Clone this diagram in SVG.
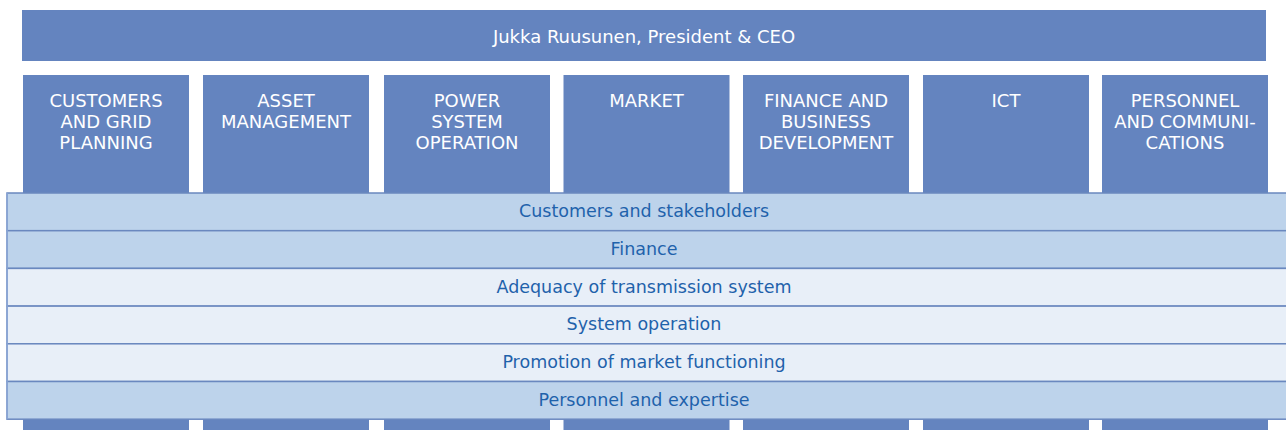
<svg xmlns="http://www.w3.org/2000/svg" width="1286" height="430" viewBox="0 0 1286 430">
  <style>
    .unit { fill: #6484bf; }
    .head { font-family: "DejaVu Sans", "Liberation Sans", sans-serif; font-size: 18px; fill: #ffffff; text-anchor: middle; }
    .unit-label { font-family: "DejaVu Sans", "Liberation Sans", sans-serif; font-size: 18px; fill: #ffffff; text-anchor: middle; }
    .band { stroke: #6a88bf; stroke-width: 1.5; }
    .band-a { fill: #bdd3eb; }
    .band-b { fill: #e8eff8; }
    .band-label { font-family: "DejaVu Sans", "Liberation Sans", sans-serif; font-size: 17.5px; fill: #1f62ab; text-anchor: middle; }
  </style>

  <rect width="1286" height="430" fill="#ffffff"/>

  <!-- President & CEO -->
  <g id="ceo">
    <rect class="unit" x="22" y="10" width="1244" height="51"/>
    <text class="head" x="644" y="42.5">Jukka Ruusunen, President &amp; CEO</text>
  </g>

  <!-- Business units (columns run behind the bands) -->
  <g id="unit-customers-grid">
    <rect class="unit" x="23" y="75" width="166" height="355"/>
    <text class="unit-label" x="106" y="107">CUSTOMERS</text>
    <text class="unit-label" x="106" y="128">AND GRID</text>
    <text class="unit-label" x="106" y="149">PLANNING</text>
  </g>
  <g id="unit-asset-management">
    <rect class="unit" x="203" y="75" width="166" height="355"/>
    <text class="unit-label" x="286" y="107">ASSET</text>
    <text class="unit-label" x="286" y="128">MANAGEMENT</text>
  </g>
  <g id="unit-power-system">
    <rect class="unit" x="384" y="75" width="166" height="355"/>
    <text class="unit-label" x="467" y="107">POWER</text>
    <text class="unit-label" x="467" y="128">SYSTEM</text>
    <text class="unit-label" x="467" y="149">OPERATION</text>
  </g>
  <g id="unit-market">
    <rect class="unit" x="563.5" y="75" width="166" height="355"/>
    <text class="unit-label" x="646.5" y="107">MARKET</text>
  </g>
  <g id="unit-finance-business">
    <rect class="unit" x="743" y="75" width="166" height="355"/>
    <text class="unit-label" x="826" y="107">FINANCE AND</text>
    <text class="unit-label" x="826" y="128">BUSINESS</text>
    <text class="unit-label" x="826" y="149">DEVELOPMENT</text>
  </g>
  <g id="unit-ict">
    <rect class="unit" x="923" y="75" width="166" height="355"/>
    <text class="unit-label" x="1006" y="107">ICT</text>
  </g>
  <g id="unit-personnel-comms">
    <rect class="unit" x="1102" y="75" width="166" height="355"/>
    <text class="unit-label" x="1185" y="107">PERSONNEL</text>
    <text class="unit-label" x="1185" y="128">AND COMMUNI-</text>
    <text class="unit-label" x="1185" y="149">CATIONS</text>
  </g>

  <!-- Cross-cutting bands -->
  <g id="band-customers">
    <rect class="band band-a" x="7" y="193" width="1290" height="37.7"/>
    <text class="band-label" x="644" y="217">Customers and stakeholders</text>
  </g>
  <g id="band-finance">
    <rect class="band band-a" x="7" y="230.7" width="1290" height="37.7"/>
    <text class="band-label" x="644" y="255">Finance</text>
  </g>
  <g id="band-adequacy">
    <rect class="band band-b" x="7" y="268.4" width="1290" height="37.7"/>
    <text class="band-label" x="644" y="292.7">Adequacy of transmission system</text>
  </g>
  <g id="band-system-operation">
    <rect class="band band-b" x="7" y="306.1" width="1290" height="37.7"/>
    <text class="band-label" x="644" y="330.4">System operation</text>
  </g>
  <g id="band-market-functioning">
    <rect class="band band-b" x="7" y="343.8" width="1290" height="37.7"/>
    <text class="band-label" x="644" y="368.1">Promotion of market functioning</text>
  </g>
  <g id="band-personnel">
    <rect class="band band-a" x="7" y="381.5" width="1290" height="37.7"/>
    <text class="band-label" x="644" y="405.8">Personnel and expertise</text>
  </g>
  <line x1="7" y1="193" x2="7" y2="419.2" stroke="#8ea9d6" stroke-width="1.5"/>

  <g id="connectors"></g>
</svg>
